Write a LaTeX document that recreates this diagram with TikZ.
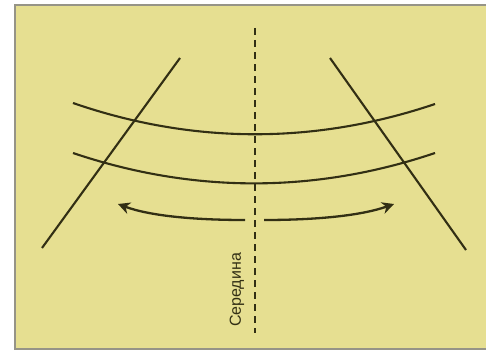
\documentclass[tikz,border=0pt]{standalone}
\usepackage{fontspec}
\setmainfont{Liberation Sans}
\usetikzlibrary{arrows.meta}
\definecolor{paper}{RGB}{230,223,145}
\definecolor{ink}{RGB}{50,47,20}
\definecolor{rim}{RGB}{150,148,135}
\tikzset{
  line/.style={draw=ink, line width=2.1pt},
  mid/.style={draw=ink, line width=2.4pt, dash pattern=on 7pt off 5pt},
  turn/.style={draw=ink, line width=2.3pt, -{Stealth[length=12pt,width=12pt]}},
  label/.style={font=\fontsize{16}{16}\selectfont, text=ink, inner sep=0pt, rotate=90}
}
\begin{document}
\begin{tikzpicture}[x=1pt,y=-1pt]
\useasboundingbox (0,0) rectangle (486,353);
\fill[white] (0,0) rectangle (486,353);
\fill[paper] (15,5) rectangle (486,349);
\draw[rim, line width=2pt] (486,5) -- (15,5) -- (15,349) -- (486,349);
% diagonals
\coordinate (la) at (180,58);
\coordinate (lb) at (42,248);
\coordinate (ra) at (330,58);
\coordinate (rb) at (466,250);
\draw[line] (la) -- (lb);
\draw[line] (ra) -- (rb);
% arcs
\coordinate (u1) at (73,103);
\coordinate (u2) at (435,104);
\coordinate (w1) at (73,153);
\coordinate (w2) at (435,153);
\draw[line] (u1) .. controls (193,144.5) and (315,144.5) .. (u2);
\draw[line] (w1) .. controls (193,193.5) and (315,193.5) .. (w2);
% middle dashed line
\coordinate (mt) at (255,28);
\coordinate (mb) at (255,333);
\draw[mid] (mt) -- (mb);
% arrows
\coordinate (al) at (245,220);
\coordinate (tl) at (118,204);
\coordinate (ar) at (264,220);
\coordinate (tr) at (394,204);
\draw[turn] (al) .. controls (195,220) and (150,216) .. (tl);
\draw[turn] (ar) .. controls (314,220) and (360,216) .. (tr);
% label
\node[label] (txt) at (237,290) {Середина};
\end{tikzpicture}
\end{document}
